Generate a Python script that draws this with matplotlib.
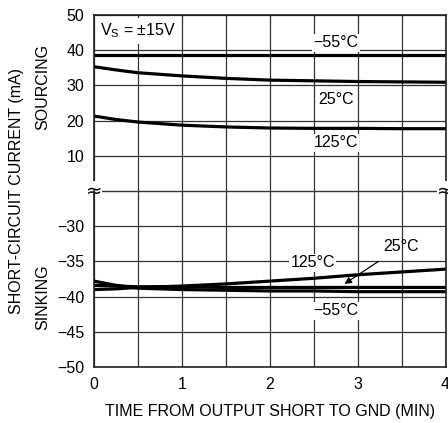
import numpy as np
import matplotlib
matplotlib.use("Agg")
import matplotlib.pyplot as plt

# fuente estrecha tipo hoja de datos (si no existe, cae en Liberation Sans)
plt.rcParams['font.family'] = ['Liberation Sans Narrow', 'Liberation Sans', 'DejaVu Sans']
plt.rcParams['mathtext.fontset'] = 'custom'
plt.rcParams['mathtext.rm'] = 'Liberation Sans'
plt.rcParams['font.size'] = 11.5

# datos
tiempo = [0, 0.25, 0.5, 1, 1.5, 2, 2.5, 3, 3.5, 4]
fuente_m55 = [38.5, 38.5, 38.5, 38.5, 38.5, 38.5, 38.5, 38.5, 38.5, 38.5]
fuente_25 = [35.3, 34.4, 33.6, 32.7, 32.0, 31.5, 31.3, 31.1, 31.0, 30.9]
fuente_125 = [21.3, 20.3, 19.6, 18.7, 18.2, 17.9, 17.8, 17.8, 17.7, 17.7]
sumidero_m55 = [-37.8, -38.4, -38.8, -39.0, -39.1, -39.2, -39.2, -39.3, -39.3, -39.3]
sumidero_25 = [-38.4, -38.5, -38.6, -38.6, -38.7, -38.7, -38.7, -38.7, -38.7, -38.7]
sumidero_125 = [-39.0, -38.9, -38.7, -38.5, -38.2, -37.8, -37.4, -36.9, -36.5, -36.1]

ticks_x = [0, 1, 2, 3, 4]
ticks_fuente = [10, 20, 30, 40, 50]
ticks_sumidero = [-50, -45, -40, -35, -30]

fig = plt.figure(figsize=(4.48, 4.23), dpi=100)
izq, der = 94 / 448, 445.5 / 448
arriba, medio, abajo = 1 - 15 / 423, 1 - 191 / 423, 1 - 367 / 423
ax_top = fig.add_axes([izq, medio, der - izq, arriba - medio])
ax_bot = fig.add_axes([izq, abajo, der - izq, medio - abajo], sharex=ax_top)
ax_bot.patch.set_visible(False)

fondo = dict(facecolor='white', edgecolor='none', pad=1.0)
estilo_grid = dict(color='#333333', linewidth=0.9)

for ax in (ax_top, ax_bot):
    ax.set_xlim(0, 4)
    ax.set_xticks(ticks_x)
    ax.set_xticks(np.arange(0.5, 4, 1), minor=True)
    ax.grid(True, which='both', **estilo_grid)
    ax.tick_params(which='both', length=0, pad=7, labelsize=11.5)
    for s in ax.spines.values():
        s.set_linewidth(1.2)
        s.set_color('#222222')

# parte superior: corriente de fuente
ax_top.set_ylim(0, 50)
ax_top.set_yticks(ticks_fuente)
ax_top.tick_params(axis='x', labelbottom=False)
ax_top.spines['bottom'].set_linewidth(1.0)
ax_top.spines['bottom'].set_color('#333333')
ax_top.plot(tiempo, fuente_m55, color='black', lw=2.3)
ax_top.plot(tiempo, fuente_25, color='black', lw=2.3)
ax_top.plot(tiempo, fuente_125, color='black', lw=2.3)
ax_top.text(2.75, 42.1, '\u221255°C', ha='center', va='center', bbox=fondo)
ax_top.text(2.75, 26.1, '25°C', ha='center', va='center', bbox=fondo)
ax_top.text(2.75, 13.7, '125°C', ha='center', va='center', bbox=fondo)
ax_top.text(0.07, 45.5, r'$\mathregular{V_S}$ = ±15V', ha='left', va='center',
            bbox=dict(facecolor='white', edgecolor='none', pad=2.5))

# parte inferior: corriente de sumidero
ax_bot.set_ylim(-50, -25)
ax_bot.set_yticks(ticks_sumidero)
ax_bot.spines['top'].set_visible(False)
ax_bot.plot(tiempo, sumidero_m55, color='black', lw=2.3)
ax_bot.plot(tiempo, sumidero_25, color='black', lw=2.3)
ax_bot.plot(tiempo, sumidero_125, color='black', lw=2.3)
ax_bot.text(2.49, -35.2, '125°C', ha='center', va='center', bbox=fondo)
ax_bot.text(2.75, -42.0, '\u221255°C', ha='center', va='center', bbox=fondo)
ax_bot.annotate('25°C', xy=(2.85, -38.2), xytext=(3.49, -32.9), ha='center', va='center',
                arrowprops=dict(arrowstyle='-|>', color='black', lw=0.9,
                                shrinkA=6, shrinkB=0, mutation_scale=10))
ax_bot.set_xlabel('TIME FROM OUTPUT SHORT TO GND (MIN)', fontsize=11.5, labelpad=9)

# marcas de corte del eje
for xx in (0, 4):
    ax_top.text(xx, 0, '\u2248', ha='center', va='center', fontsize=14,
                family='DejaVu Sans', clip_on=False, zorder=5,
                bbox=dict(facecolor='white', edgecolor='none', pad=0.0))

fig.text(17 / 448, 1 - 191 / 423, 'SHORT-CIRCUIT CURRENT (mA)', rotation=90,
         ha='center', va='center', fontsize=11.5)
fig.text(43 / 448, 1 - 87 / 423, 'SOURCING', rotation=90, ha='center', va='center', fontsize=11.5)
fig.text(43 / 448, 1 - 297 / 423, 'SINKING', rotation=90, ha='center', va='center', fontsize=11.5)

fig.savefig('out.png', dpi=100, facecolor='white')
